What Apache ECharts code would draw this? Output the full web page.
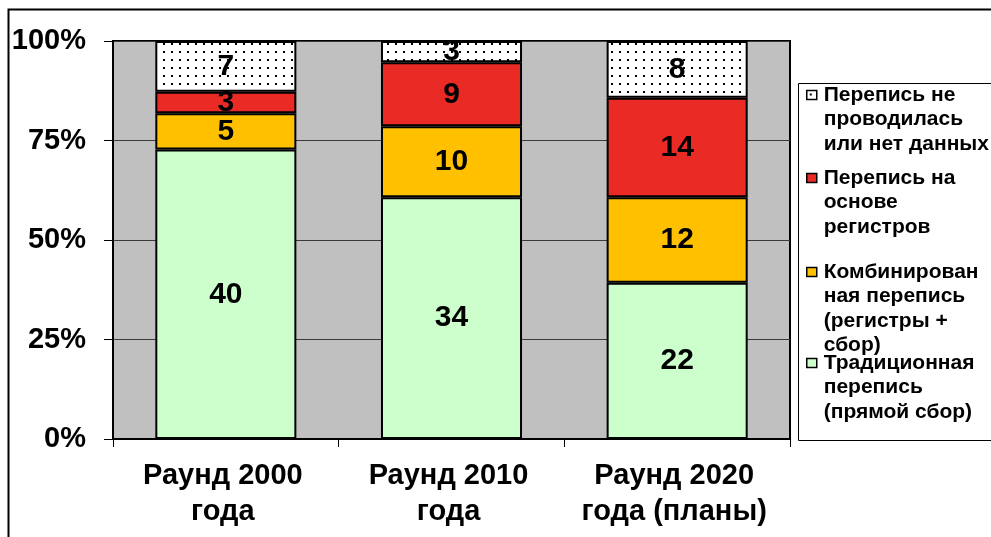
<!DOCTYPE html>
<html>
<head>
<meta charset="utf-8">
<script src="https://cdn.jsdelivr.net/npm/echarts@6/dist/echarts.min.js"></script>
<style>
html,body{margin:0;padding:0;background:#fff;}
#chart{width:991px;height:537px;}
</style>
</head>
<body>
<div id="chart"></div>
<script>
// ---- data ----
const categories = ['Раунд 2000\nгода', 'Раунд 2010\nгода', 'Раунд 2020\nгода (планы)'];
const traditional = [40, 34, 22];   // Традиционная перепись (прямой сбор)
const combined    = [5, 10, 12];    // Комбинированная перепись (регистры + сбор)
const registers   = [3, 9, 14];     // Перепись на основе регистров
const noCensus    = [7, 3, 8];      // Перепись не проводилась или нет данных
const seriesNames = [
  'Традиционная перепись (прямой сбор)',
  'Комбинированная перепись (регистры + сбор)',
  'Перепись на основе регистров',
  'Перепись не проводилась или нет данных'
];
const legendLines = [
  ['Традиционная', 'перепись', '(прямой сбор)'],
  ['Комбинирован', 'ная перепись', '(регистры +', 'сбор)'],
  ['Перепись на', 'основе', 'регистров'],
  ['Перепись не', 'проводилась', 'или нет данных']
];
const yTickLabels = ['0%', '25%', '50%', '75%', '100%'];

// ---- styling ----
const FONT = '"Liberation Sans", Arial, sans-serif';
const dots = document.createElement('canvas');
dots.width = 8; dots.height = 8;
(function(){
  const c = dots.getContext('2d');
  c.fillStyle = '#ffffff'; c.fillRect(0,0,8,8);
  c.fillStyle = '#000000'; c.fillRect(3,3,2,2);
})();
const colors = ['#CCFFCC', '#FFC000', '#E92A25', {image: dots, repeat: 'repeat'}];

const allSeries = [traditional, combined, registers, noCensus];
const totals = categories.map((_, i) => allSeries.reduce((s, a) => s + a[i], 0));

const series = allSeries.map((arr, k) => ({
  name: seriesNames[k],
  type: 'bar',
  stack: 'total',
  barWidth: '62.5%',
  data: arr.map((v, i) => v / totals[i] * 100),
  itemStyle: {color: colors[k], borderColor: '#000', borderWidth: 2},
  label: {
    show: true, position: 'inside', color: '#000',
    fontFamily: FONT, fontWeight: 'bold', fontSize: 30,
    formatter: p => String(arr[p.dataIndex])
  },
  emphasis: {disabled: true}
}));

// legend: one block per series, top-to-bottom in reverse stack order
const L = 24.5;
const firstLineCenters = {3: 95, 2: 178, 1: 272, 0: 363};
const legends = [3, 2, 1, 0].map(k => {
  const n = legendLines[k].length;
  // leading blank lines so that the first real line sits level with the icon
  const txt = new Array(n - 1).fill('').concat(legendLines[k]).join('\n');
  return {
    data: [seriesNames[k]],
    left: 806,
    top: firstLineCenters[k] - (n - 0.5) * L,
    padding: 0,
    icon: 'rect',
    itemWidth: 10,
    itemHeight: 9,
    itemStyle: {borderColor: '#000', borderWidth: 1.5},
    selectedMode: false,
    formatter: () => txt,
    textStyle: {
      fontFamily: FONT, fontWeight: 'bold', fontSize: 21, color: '#000',
      lineHeight: L, padding: [0, 0, 0, 2]
    }
  };
});

const chart = echarts.init(document.getElementById('chart'), null, {renderer: 'canvas'});
chart.setOption({
  animation: false,
  backgroundColor: '#ffffff',
  grid: {
    left: 113, top: 41, width: 677, height: 398,
    show: true, backgroundColor: '#C0C0C0', borderColor: '#000', borderWidth: 2
  },
  xAxis: {
    type: 'category',
    data: categories,
    axisLine: {lineStyle: {color: '#000', width: 2}},
    axisTick: {show: true, length: 8, lineStyle: {color: '#000', width: 1}},
    axisLabel: {
      fontFamily: FONT, fontWeight: 'bold', fontSize: 29, color: '#000',
      lineHeight: 36, margin: 19, interval: 0, padding: [0, 6, 0, 0]
    }
  },
  yAxis: {
    type: 'value', min: 0, max: 100, interval: 25,
    axisLine: {show: true, lineStyle: {color: '#000', width: 2}},
    axisTick: {show: true, length: 9, lineStyle: {color: '#000', width: 1}},
    splitLine: {show: true, lineStyle: {color: '#3a3a3a', width: 1}},
    axisLabel: {
      fontFamily: FONT, fontWeight: 'bold', fontSize: 29, color: '#000', margin: 27,
      formatter: (v) => yTickLabels[Math.round(v / 25)]
    }
  },
  legend: legends,
  graphic: [
    {type: 'rect', left: 6, top: 7, shape: {x: 0, y: 0, width: 1100, height: 700},
     style: {fill: 'none', stroke: '#000', lineWidth: 2}, silent: true, z: -1},
    {type: 'rect', left: 798, top: 83, shape: {x: 0, y: 0, width: 300, height: 357},
     style: {fill: '#fff', stroke: '#000', lineWidth: 1}, silent: true, z: -1}
  ],
  series: series
});
</script>
</body>
</html>
